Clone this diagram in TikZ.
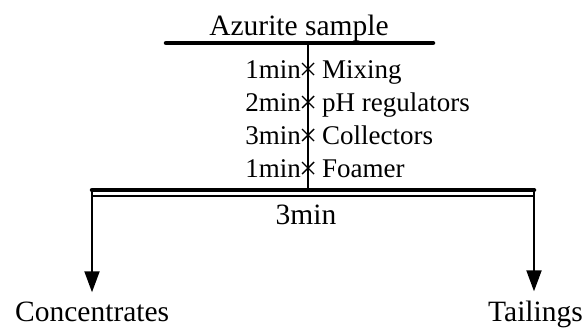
\documentclass[tikz,border=0pt]{standalone}
\usepackage{fontspec}
\setmainfont{Liberation Serif}
\usetikzlibrary{arrows.meta}

\begin{document}
\begin{tikzpicture}[x=1pt, y=-1pt,
    every node/.style = {inner sep=0pt},
    big/.style = {font=\fontsize{29.5}{34}\selectfont},
    small/.style = {font=\fontsize{27}{32}\selectfont},
    bar/.style = {line width=4.5pt, line cap=round},
    flow/.style = {line width=2pt, -{Triangle[length=21pt,width=15pt]}},
    cross/.style = {line width=1.4pt}]
  \useasboundingbox (0,0) rectangle (585,327);
  % feed
  \node[big, anchor=base] (sample) at (299,35) {Azurite sample};
  \coordinate (top-l) at (166,43);
  \coordinate (top-r) at (433,43);
  \coordinate (top-m) at (308,43);
  \coordinate (bot-l) at (92,190);
  \coordinate (bot-r) at (534,190);
  \coordinate (bot-m) at (308,190);
  \draw[bar] (top-l) -- (top-r);
  \draw[line width=2pt] (top-m) -- (bot-m);
  % conditioning steps
  \foreach \t/\r [count=\i] in {1min/Mixing, 2min/pH regulators,
      3min/Collectors, 1min/Foamer} {
    \pgfmathsetmacro\yb{45+33*\i}
    \node[small, anchor=base east] (time\i) at (301,\yb) {\t};
    \node[small, anchor=base west] (reag\i) at (322,\yb) {\r};
    \coordinate (mark\i) at (308,\yb-9);
    \draw[cross] ([shift={(-6,-6)}]mark\i) -- ([shift={(6,6)}]mark\i)
                 ([shift={(-6,6)}]mark\i) -- ([shift={(6,-6)}]mark\i);
  }
  % flotation cell
  \draw[bar] (bot-l) -- (bot-r);
  \draw[line width=1.5pt] ([shift={(0,6)}]bot-l) -- ([shift={(0,6)}]bot-r);
  \node[big, anchor=base] (float) at (306,224) {3min};
  % products
  \node[big, anchor=base west] (conc) at (15,321) {Concentrates};
  \node[big, anchor=base west] (tail) at (488,321) {Tailings};
  \draw[flow] (bot-l) -- ([yshift=9pt]bot-l |- conc.north);
  \draw[flow] (bot-r) -- ([yshift=9pt]bot-r |- tail.north);
\end{tikzpicture}
\end{document}
